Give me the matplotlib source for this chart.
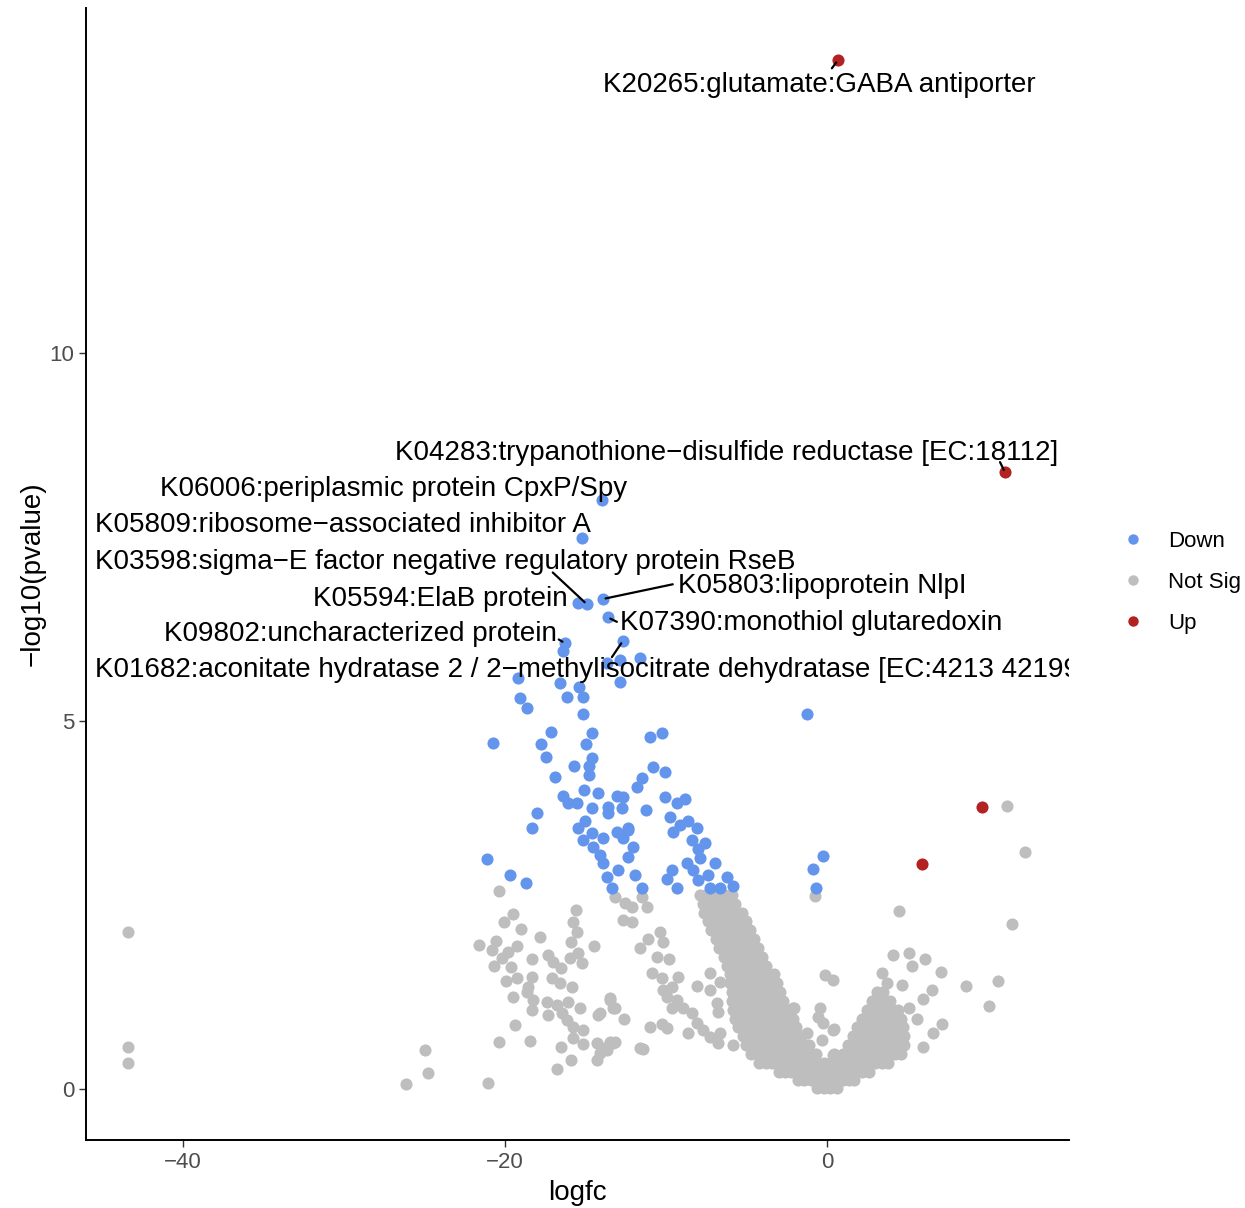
import numpy as np
import matplotlib.pyplot as plt
from matplotlib.lines import Line2D

plt.rcParams['font.family'] = ['Liberation Sans', 'DejaVu Sans']

# Цвета групп
COL_DOWN = '#6495ED'
COL_NS = '#BEBEBE'
COL_UP = '#B22222'

# ------------------------- Данные (logfc, -log10(pvalue)) -------------------------
up_pts = [(0.68, 13.98), (11.06, 8.38), (9.63, 3.83), (5.90, 3.06)]

down_pts = [
    (-13.98, 8.00), (-15.22, 7.49), (-14.91, 6.59), (-15.47, 6.60), (-13.91, 6.66),
    (-13.60, 6.41), (-16.27, 6.06), (-12.67, 6.09),
    (-16.40, 5.95), (-12.86, 5.83), (-11.61, 5.86), (-13.66, 5.79), (-19.19, 5.58),
    (-16.58, 5.52), (-15.40, 5.46), (-12.86, 5.53), (-16.15, 5.33), (-15.16, 5.33),
    (-19.07, 5.31), (-18.63, 5.18), (-15.16, 5.10), (-17.14, 4.85), (-14.60, 4.84),
    (-20.75, 4.71), (-17.76, 4.69), (-14.97, 4.69), (-17.45, 4.51), (-14.60, 4.50),
    (-14.78, 4.39), (-15.71, 4.39), (-14.78, 4.27), (-16.89, 4.24), (-15.09, 4.06),
    (-14.22, 4.02), (-13.04, 3.99), (-16.40, 3.99), (-16.09, 3.89), (-15.53, 3.89),
    (-14.60, 3.82), (-13.60, 3.83), (-12.73, 3.82), (-13.60, 3.75), (-18.01, 3.75),
    (-15.03, 3.65), (-18.32, 3.55), (-15.47, 3.55), (-13.04, 3.49), (-12.36, 3.52),
    (-14.60, 3.48), (-13.91, 3.41), (-15.16, 3.38), (-12.67, 3.41), (-12.05, 3.29),
    (-14.53, 3.29), (-14.10, 3.18), (-12.36, 3.15), (-21.12, 3.13), (-13.91, 3.08),
    (-12.98, 2.98), (-19.69, 2.91), (-13.66, 2.88), (-18.70, 2.80), (-11.93, 2.91),
    (-13.35, 2.74),
    (-10.99, 4.78), (-10.25, 4.84), (-10.81, 4.38), (-10.06, 4.31), (-11.49, 4.23),
    (-11.80, 4.10), (-10.06, 3.97), (-8.82, 3.94), (-9.32, 3.89), (-12.67, 3.97),
    (-11.24, 3.80), (-9.75, 3.70), (-8.63, 3.65), (-9.13, 3.59), (-8.07, 3.55),
    (-9.57, 3.49), (-12.36, 3.55), (-8.39, 3.38), (-7.58, 3.34), (-8.01, 3.27),
    (-7.89, 3.14), (-8.70, 3.08), (-6.96, 3.07), (-9.63, 2.98), (-8.32, 2.98),
    (-7.39, 2.91), (-9.94, 2.85), (-8.01, 2.84), (-6.21, 2.88), (-7.27, 2.74),
    (-9.32, 2.74), (-11.49, 2.73), (-5.84, 2.76), (-6.65, 2.74),
    (-1.24, 5.10), (-0.25, 3.17), (-0.87, 2.99), (-0.68, 2.74),
]

# Плотная "V" область не значимых генов: (уровень -log10(p), значения logfc)
ns_rows = [
    (2.64, [-7.9, -7.5, -7.1, -6.7, -6.3, -5.9]),
    (2.52, [-7.7, -7.3, -6.9, -6.5, -6.1, -5.7]),
    (2.40, [-7.6, -7.2, -6.8, -6.4, -6.0, -5.6, -5.3]),
    (2.28, [-7.4, -7.0, -6.6, -6.2, -5.8, -5.4, -5.0]),
    (2.16, [-7.2, -6.8, -6.4, -6.0, -5.6, -5.2, -4.8]),
    (2.04, [-6.9, -6.5, -6.1, -5.7, -5.3, -4.9, -4.5]),
    (1.92, [-6.7, -6.3, -5.9, -5.5, -5.1, -4.7, -4.3]),
    (1.80, [-6.4, -6.0, -5.6, -5.2, -4.8, -4.4, -4.0]),
    (1.68, [-6.2, -5.8, -5.4, -5.0, -4.6, -4.2, -3.8]),
    (1.56, [-6.0, -5.6, -5.2, -4.8, -4.4, -4.0, -3.6, -3.3]),
    (1.44, [-6.0, -5.6, -5.2, -4.8, -4.4, -4.0, -3.6, -3.1]),
    (1.32, [-5.9, -5.5, -5.1, -4.7, -4.3, -3.9, -3.5, -3.1, -2.9]),
    (1.20, [-5.9, -5.5, -5.1, -4.7, -4.3, -3.9, -3.5, -3.1, -2.7]),
    (1.08, [-5.8, -5.4, -5.0, -4.6, -4.2, -3.8, -3.4, -3.0, -2.6, -2.4,
            2.5, 2.9, 3.3, 3.7, 4.1, 4.4]),
    (0.96, [-5.7, -5.3, -4.9, -4.5, -4.1, -3.7, -3.3, -2.9, -2.5, -2.1,
            2.2, 2.6, 3.0, 3.4, 3.8, 4.2, 4.6]),
    (0.84, [-5.5, -5.1, -4.7, -4.3, -3.9, -3.5, -3.1, -2.7, -2.3, -1.9,
            1.9, 2.3, 2.7, 3.1, 3.5, 3.9, 4.3, 4.7]),
    (0.72, [-5.2, -4.8, -4.4, -4.0, -3.6, -3.2, -2.8, -2.4, -2.0, -1.6,
            1.6, 2.0, 2.4, 2.8, 3.2, 3.6, 4.0, 4.4, 4.8]),
    (0.60, [-5.0, -4.6, -4.2, -3.8, -3.4, -3.0, -2.6, -2.2, -1.8, -1.4, -1.1,
            1.3, 1.7, 2.1, 2.5, 2.9, 3.3, 3.7, 4.1, 4.5, 4.8]),
    (0.48, [-4.7, -4.3, -3.9, -3.5, -3.1, -2.7, -2.3, -1.9, -1.5, -1.1, -0.7,
            1.0, 1.4, 1.8, 2.2, 2.6, 3.0, 3.4, 3.8, 4.2, 4.6]),
    (0.36, [-4.2, -3.8, -3.4, -3.0, -2.6, -2.2, -1.8, -1.4, -1.0, -0.6, -0.2,
            0.2, 0.6, 1.0, 1.4, 1.8, 2.2, 2.6, 3.0, 3.4, 3.8]),
    (0.24, [-3.0, -2.6, -2.2, -1.8, -1.4, -1.0, -0.6, -0.2, 0.2, 0.6, 1.0,
            1.4, 1.8, 2.2, 2.6]),
    (0.12, [-1.8, -1.4, -1.0, -0.6, -0.2, 0.2, 0.6, 1.0, 1.4, 1.7]),
    (0.02, [-0.6, -0.2, 0.2, 0.6]),
    (1.20, [2.8, 3.2, 3.6, 3.9]),
    (1.32, [3.1, 3.5]),
]

# Разбросанные не значимые точки
ns_scatter = [
    (-43.42, 2.13), (-43.42, 0.57), (-43.42, 0.35), (-24.97, 0.53), (-24.78, 0.22), (-26.15, 0.07),
    (-20.37, 2.69), (-19.50, 2.38), (-20.06, 2.27), (-19.01, 2.17), (-17.83, 2.07), (-15.59, 2.43),
    (-15.78, 2.27), (-15.53, 2.13), (-15.90, 2.00), (-14.47, 1.94), (-21.61, 1.96), (-20.56, 2.02),
    (-20.81, 1.89), (-19.25, 1.94), (-19.81, 1.86), (-20.19, 1.78), (-18.32, 1.77), (-17.33, 1.82),
    (-17.02, 1.73), (-15.96, 1.78), (-15.47, 1.85), (-15.22, 1.71), (-20.68, 1.67), (-19.63, 1.66),
    (-16.52, 1.64), (-19.94, 1.47), (-19.25, 1.51), (-18.32, 1.52), (-17.08, 1.51), (-18.57, 1.39),
    (-16.58, 1.44), (-15.84, 1.39), (-18.63, 1.32), (-19.50, 1.25), (-18.26, 1.21), (-17.39, 1.18),
    (-16.77, 1.14), (-16.09, 1.18), (-18.32, 1.07), (-17.33, 1.01), (-16.46, 1.03), (-15.34, 1.10),
    (-13.48, 1.21), (-13.17, 1.10), (-14.22, 1.01), (-16.15, 0.94), (-15.78, 0.84), (-15.16, 0.80),
    (-19.38, 0.87), (-12.61, 0.95), (-20.37, 0.64), (-18.45, 0.65), (-16.52, 0.58), (-15.78, 0.69),
    (-15.16, 0.61), (-14.29, 0.63), (-13.29, 0.63), (-13.66, 0.53), (-14.29, 0.39), (-15.90, 0.39),
    (-16.77, 0.27), (-21.06, 0.08), (-11.61, 0.56),
    (-13.17, 2.61), (-12.55, 2.53), (-12.11, 2.47), (-12.67, 2.30), (-12.11, 2.27), (-11.49, 2.61),
    (-11.18, 2.47), (-10.37, 2.13), (-10.19, 2.00), (-11.12, 2.04), (-11.61, 1.92), (-10.56, 1.79),
    (-9.81, 1.77), (-10.87, 1.58), (-10.25, 1.51), (-9.25, 1.52), (-10.19, 1.35), (-9.63, 1.39),
    (-9.94, 1.25), (-9.32, 1.21), (-8.94, 1.10), (-9.63, 1.11), (-8.39, 1.03), (-8.07, 0.90),
    (-7.70, 0.80), (-8.63, 0.76), (-7.27, 0.71), (-6.65, 0.77), (-6.77, 0.63), (-5.84, 0.60),
    (-8.07, 1.40), (-7.27, 1.58), (-6.65, 1.45), (-7.27, 1.35), (-6.83, 1.17), (-6.77, 1.05),
    (-13.48, 1.24), (-13.29, 1.11), (-14.10, 1.03), (-10.99, 0.84), (-10.25, 0.88), (-9.94, 0.83),
    (-13.48, 0.64), (-13.17, 0.64), (-14.10, 0.49), (-11.43, 0.54), (-13.66, 0.57),
    (-2.11, 1.11), (-0.43, 1.11), (-0.56, 0.98), (-0.25, 0.90), (-1.24, 0.77), (0.37, 0.80),
    (-0.31, 0.67), (0.37, 0.46), (-0.12, 1.55), (0.37, 1.48), (-0.75, 2.62), (-2.05, 1.10),
    (0.43, 0.82), (0.43, 0.48),
    (11.18, 3.85), (12.30, 3.22), (4.47, 2.42), (11.49, 2.24), (4.10, 1.83), (5.09, 1.85),
    (6.09, 1.77), (5.28, 1.68), (7.08, 1.59), (3.42, 1.58), (8.63, 1.40), (10.62, 1.47),
    (10.06, 1.13), (6.52, 1.35), (5.96, 1.22), (5.09, 1.10), (5.59, 0.95), (7.14, 0.88),
    (6.58, 0.76), (5.96, 0.57), (4.66, 1.41), (3.73, 1.44),
]

# Подписи: текст, точка, позиция текста (левый край), начало отрезка
label_text = [
    'K20265:glutamate:GABA antiporter',
    'K04283:trypanothione\u2212disulfide reductase [EC:18112]',
    'K06006:periplasmic protein CpxP/Spy',
    'K05809:ribosome\u2212associated inhibitor A',
    'K03598:sigma\u2212E factor negative regulatory protein RseB',
    'K05594:ElaB protein',
    'K05803:lipoprotein NlpI',
    'K07390:monothiol glutaredoxin',
    'K09802:uncharacterized protein',
    'K01682:aconitate hydratase 2 / 2\u2212methylisocitrate dehydratase [EC:4213 42199]',
]
label_pt = [(0.68, 13.98), (11.06, 8.38), (-13.98, 8.00), (-15.22, 7.49), (-14.91, 6.59),
            (-15.47, 6.60), (-13.91, 6.66), (-13.60, 6.41), (-16.27, 6.06), (-12.67, 6.09)]
label_pos = [(-13.91, 13.65), (-26.83, 8.64), (-41.43, 8.16), (-45.47, 7.66), (-45.47, 7.16),
             (-31.93, 6.66), (-9.25, 6.84), (-12.86, 6.33), (-41.18, 6.18), (-45.47, 5.69)]
label_seg = [(0.31, 13.87), (10.75, 8.52), None, None, (-17.02, 7.02),
             None, (-9.57, 6.86), (-13.04, 6.35), (-16.65, 6.11), (-13.35, 5.87)]

# ------------------------------------ График ------------------------------------
fig = plt.figure(figsize=(12.45, 12.08), dpi=100)
ax = fig.add_axes([0.0691, 0.0563, 0.7895, 0.9371])

dense = [(x, y) for y, xs in ns_rows for x in xs]
ns = np.array(dense + ns_scatter)
dn = np.array(down_pts)
up = np.array(up_pts)

ax.scatter(ns[:, 0], ns[:, 1], s=76, color=COL_NS, linewidths=0, zorder=2)
ax.scatter(dn[:, 0], dn[:, 1], s=76, color=COL_DOWN, linewidths=0, zorder=3)
ax.scatter(up[:, 0], up[:, 1], s=76, color=COL_UP, linewidths=0, zorder=3)

for txt, pt, pos, seg in zip(label_text, label_pt, label_pos, label_seg):
    if seg is not None:
        ax.annotate('', xy=pt, xytext=seg,
                    arrowprops=dict(arrowstyle='-', lw=1.6, color='black', shrinkA=0, shrinkB=2),
                    zorder=4)
    ax.text(pos[0], pos[1], txt, ha='left', va='center', fontsize=20, color='black',
            clip_on=True, zorder=5)

ax.set_xlim(-46.0, 15.03)
ax.set_ylim(-0.69, 14.69)
ax.set_xticks([-40, -20, 0])
ax.set_yticks([0, 5, 10])
ax.tick_params(labelsize=16, labelcolor='#4D4D4D', color='#333333', length=5, width=1)
for side in ['top', 'right']:
    ax.spines[side].set_visible(False)
for side in ['left', 'bottom']:
    ax.spines[side].set_linewidth(1.4)
ax.set_xlabel('logfc', fontsize=20, labelpad=5)
ax.set_ylabel('\u2212log10(pvalue)', fontsize=20, labelpad=3)

handles = [Line2D([], [], marker='o', linestyle='', markersize=7.5, color=c, markeredgewidth=0)
           for c in [COL_DOWN, COL_NS, COL_UP]]
fig.legend(handles, ['Down', 'Not Sig', 'Up'], loc='center left',
           bbox_to_anchor=(0.901, 0.518), frameon=False, fontsize=16,
           handlelength=1.0, handletextpad=1.1, labelspacing=0.9, borderpad=0,
           borderaxespad=0)

plt.savefig('out.png', dpi=100)
